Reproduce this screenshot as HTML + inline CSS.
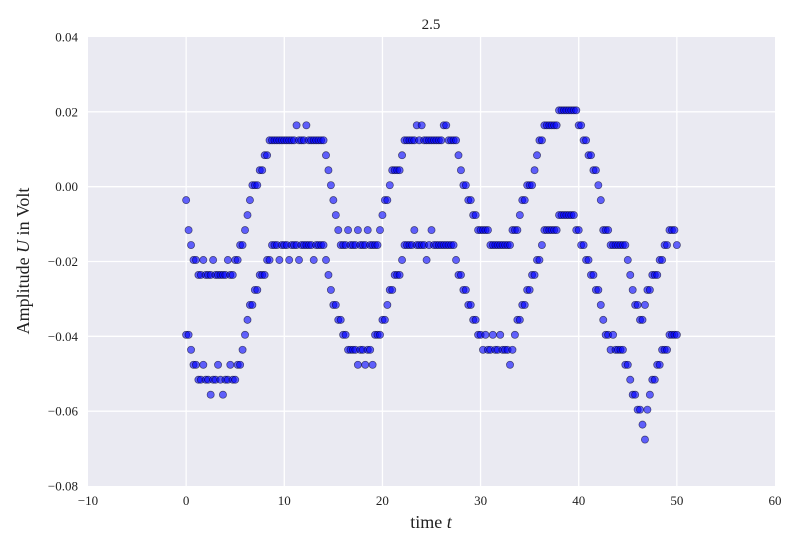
<!DOCTYPE html>
<html>
<head>
<meta charset="utf-8">
<style>
  html, body { margin:0; padding:0; background:#fff; }
  svg { display:block; font-family:"Liberation Serif", serif; }
</style>
</head>
<body>
<svg id="chart" width="800" height="550" viewBox="0 0 800 550">
  <rect x="0" y="0" width="800" height="550" fill="#ffffff"/>
  <rect x="88" y="37" width="687" height="449" fill="#EAEAF2"/>
  <g id="grid"></g>
  <g id="ticks"></g>
  <g id="points"></g>
  <text x="431" y="29" font-size="15" text-anchor="middle" fill="#222">2.5</text>
  <text x="431" y="528" font-size="18" text-anchor="middle" fill="#222">time <tspan font-style="italic">t</tspan></text>
  <text x="0" y="0" font-size="18" text-anchor="middle" fill="#222" transform="translate(29,261) rotate(-90)">Amplitude <tspan font-style="italic">U</tspan> in Volt</text>
</svg>
<script>
const xTicks = [-10, 0, 10, 20, 30, 40, 50, 60];
const yTicks = [0.04, 0.02, 0.00, -0.02, -0.04, -0.06, -0.08];
const yTickLabels = ["0.04", "0.02", "0.00", "\u22120.02", "\u22120.04", "\u22120.06", "\u22120.08"];
const xTickLabels = ["\u221210", "0", "10", "20", "30", "40", "50", "60"];
const tStart = 0;
const sampleStep = 0.25;
const upperMilliVolt = [
-3.6,-11.6,-15.6,-19.6,-19.6,-23.6,-23.6,-19.6,-23.6,-23.6,
-23.6,-19.6,-23.6,-23.6,-23.6,-23.6,-23.6,-19.6,-23.6,-23.6,
-19.6,-19.6,-15.6,-15.6,-11.6,-7.6,-3.6,0.4,0.4,0.4,
4.4,4.4,8.4,8.4,12.4,12.4,12.4,12.4,12.4,12.4,
12.4,12.4,12.4,12.4,12.4,16.4,12.4,12.4,12.4,16.4,
12.4,12.4,12.4,12.4,12.4,12.4,12.4,8.4,4.4,0.4,
-3.6,-7.6,-11.6,-15.6,-15.6,-15.6,-11.6,-15.6,-15.6,-15.6,
-11.6,-15.6,-15.6,-15.6,-11.6,-15.6,-15.6,-15.6,-15.6,-11.6,
-7.6,-3.6,-3.6,0.4,4.4,4.4,4.4,4.4,8.4,12.4,
12.4,12.4,12.4,12.4,16.4,12.4,16.4,12.4,12.4,12.4,
12.4,12.4,12.4,12.4,12.4,16.4,16.4,12.4,12.4,12.4,
12.4,8.4,4.4,0.4,0.4,-3.6,-3.6,-7.6,-7.6,-11.6,
-11.6,-11.6,-11.6,-11.6,-15.6,-15.6,-15.6,-15.6,-15.6,-15.6,
-15.6,-15.6,-15.6,-11.6,-11.6,-11.6,-7.6,-3.6,-3.6,0.4,
0.4,0.4,4.4,8.4,12.4,12.4,16.4,16.4,16.4,16.4,
16.4,16.4,20.4,20.4,20.4,20.4,20.4,20.4,20.4,20.4,
16.4,16.4,12.4,12.4,8.4,8.4,4.4,4.4,0.4,-3.6,
-11.6,-11.6,-11.6,-15.6,-15.6,-15.6,-15.6,-15.6,-15.6,-15.6,
-19.6,-23.6,-27.6,-31.6,-31.6,-35.6,-35.6,-31.6,-27.6,-27.6,
-23.6,-23.6,-23.6,-19.6,-19.6,-15.6,-15.6,-11.6,-11.6,-11.6,
-15.6];
const lowerMilliVolt = [
-39.6,-39.6,-43.6,-47.6,-47.6,-51.6,-51.6,-47.6,-51.6,-51.6,
-55.6,-51.6,-51.6,-47.6,-51.6,-55.6,-51.6,-51.6,-47.6,-51.6,
-51.6,-47.6,-47.6,-43.6,-39.6,-35.6,-31.6,-31.6,-27.6,-27.6,
-23.6,-23.6,-23.6,-19.6,-19.6,-15.6,-15.6,-15.6,-19.6,-15.6,
-15.6,-15.6,-19.6,-15.6,-15.6,-15.6,-19.6,-15.6,-15.6,-15.6,
-15.6,-15.6,-19.6,-15.6,-15.6,-15.6,-15.6,-19.6,-23.6,-27.6,
-31.6,-31.6,-35.6,-35.6,-39.6,-39.6,-43.6,-43.6,-43.6,-43.6,
-47.6,-43.6,-43.6,-47.6,-43.6,-43.6,-47.6,-39.6,-39.6,-39.6,
-35.6,-35.6,-31.6,-27.6,-27.6,-23.6,-23.6,-23.6,-19.6,-15.6,
-15.6,-15.6,-15.6,-11.6,-15.6,-15.6,-15.6,-15.6,-19.6,-15.6,
-11.6,-15.6,-15.6,-15.6,-15.6,-15.6,-15.6,-15.6,-15.6,-15.6,
-19.6,-23.6,-23.6,-27.6,-27.6,-31.6,-31.6,-35.6,-35.6,-39.6,
-39.6,-43.6,-39.6,-43.6,-43.6,-39.6,-43.6,-43.6,-39.6,-43.6,
-43.6,-43.6,-47.6,-43.6,-39.6,-35.6,-35.6,-31.6,-31.6,-27.6,
-27.6,-23.6,-23.6,-19.6,-19.6,-15.6,-11.6,-11.6,-11.6,-11.6,
-11.6,-11.6,-7.6,-7.6,-7.6,-7.6,-7.6,-7.6,-7.6,-11.6,
-11.6,-15.6,-15.6,-19.6,-19.6,-23.6,-23.6,-27.6,-27.6,-31.6,
-35.6,-39.6,-39.6,-43.6,-39.6,-43.6,-43.6,-43.6,-43.6,-47.6,
-47.6,-51.6,-55.6,-55.6,-59.6,-59.6,-63.6,-67.6,-59.6,-55.6,
-51.6,-51.6,-47.6,-47.6,-43.6,-43.6,-43.6,-39.6,-39.6,-39.6,
-39.6];

const X0 = 88, X1 = 775, Y0 = 37, Y1 = 486;
const xMin = -10, xMax = 60, yMin = -0.08, yMax = 0.04;
function xScale(v) { return X0 + (v - xMin) / (xMax - xMin) * (X1 - X0); }
function yScale(v) { return Y1 - (v - yMin) / (yMax - yMin) * (Y1 - Y0); }
const NS = "http://www.w3.org/2000/svg";
const grid = document.getElementById("grid");
const ticks = document.getElementById("ticks");
const pts = document.getElementById("points");

xTicks.forEach((t, i) => {
  const x = xScale(t);
  if (t > xMin && t < xMax) {
    const l = document.createElementNS(NS, "line");
    l.setAttribute("x1", x); l.setAttribute("x2", x);
    l.setAttribute("y1", Y0); l.setAttribute("y2", Y1);
    l.setAttribute("stroke", "#fff"); l.setAttribute("stroke-width", "1.3");
    
    
    grid.appendChild(l);
  }
  const tx = document.createElementNS(NS, "text");
  tx.setAttribute("x", x); tx.setAttribute("y", 505);
  tx.setAttribute("font-size", "13"); tx.setAttribute("text-anchor", "middle");
  tx.setAttribute("fill", "#222");
  tx.textContent = xTickLabels[i];
  
  
  ticks.appendChild(tx);
});
yTicks.forEach((v, i) => {
  const y = yScale(v);
  if (v > yMin + 1e-9 && v < yMax - 1e-9) {
    const l = document.createElementNS(NS, "line");
    l.setAttribute("x1", X0); l.setAttribute("x2", X1);
    l.setAttribute("y1", y); l.setAttribute("y2", y);
    l.setAttribute("stroke", "#fff"); l.setAttribute("stroke-width", "1.3");
    
    
    grid.appendChild(l);
  }
  const tx = document.createElementNS(NS, "text");
  tx.setAttribute("x", 78); tx.setAttribute("y", y + 4.5);
  tx.setAttribute("font-size", "13"); tx.setAttribute("text-anchor", "end");
  tx.setAttribute("fill", "#222");
  tx.textContent = yTickLabels[i];
  
  
  ticks.appendChild(tx);
});

function drawSeries(vals, name) {
  vals.forEach((mv, i) => {
    const t = tStart + i * sampleStep;
    const c = document.createElementNS(NS, "circle");
    c.setAttribute("cx", xScale(t));
    c.setAttribute("cy", yScale(mv / 1000));
    c.setAttribute("r", "3.6");
    c.setAttribute("fill", "rgba(0,0,255,0.6)");
    c.setAttribute("stroke", "rgba(0,0,30,0.6)");
    c.setAttribute("stroke-width", "0.7");
    
    
    pts.appendChild(c);
  });
}
drawSeries(upperMilliVolt, "upper-point");
drawSeries(lowerMilliVolt, "lower-point");
</script>
</body>
</html>
